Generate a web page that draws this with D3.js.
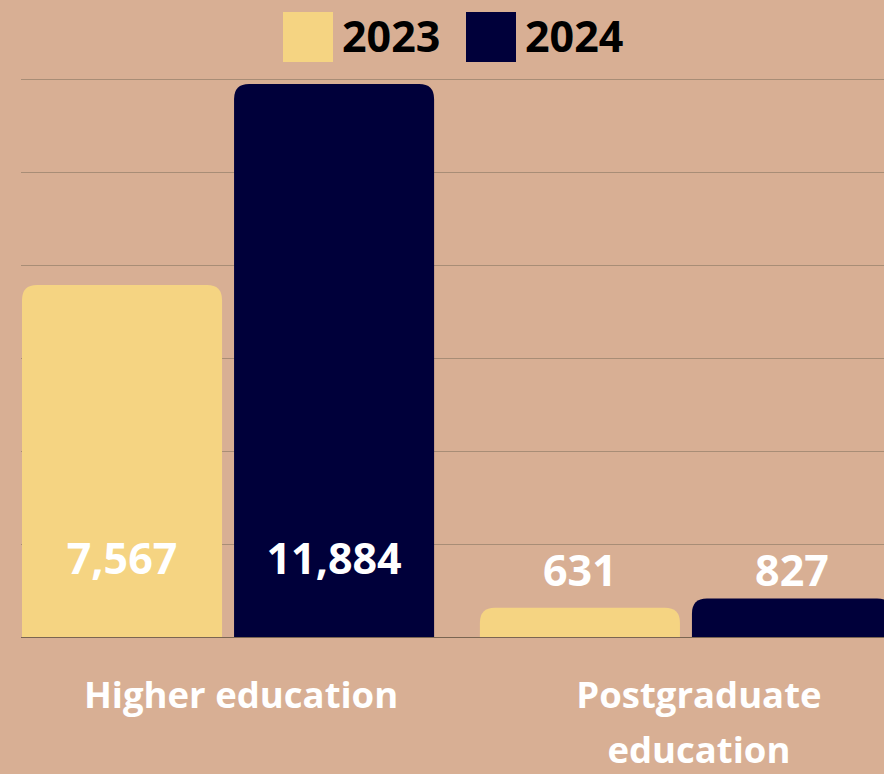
<!DOCTYPE html>
<html>
<head>
<meta charset="utf-8">
<script src="https://cdn.jsdelivr.net/npm/d3@7"></script>
<style>
  html, body { margin: 0; padding: 0; background: #d8af94; overflow: hidden; }
  svg { display: block; font-family: 'Open Sans', 'Noto Sans', sans-serif; font-weight: 700; }
</style>
</head>
<body>
<div id="chart"></div>
<script>
var categories = [['Higher education'], ['Postgraduate', 'education']];
var years = ['2023', '2024'];
var values2023 = [7567, 631];
var values2024 = [11884, 827];
var yTicks = [0, 2000, 4000, 6000, 8000, 10000, 12000];
var colors = ['#f5d482', '#00003a'];

var width = 884, height = 774;
var data = categories.map(function(c, i) {
  return { cat: c.join(' '), lines: c, vals: [values2023[i], values2024[i]] };
});

var svg = d3.select('#chart').append('svg')
  .attr('width', width)
  .attr('height', height);

var x0 = d3.scaleBand()
  .domain(data.map(function(d) { return d.cat; }))
  .range([22, 892])
  .paddingInner(0.1)
  .paddingOuter(0);

var x1 = d3.scaleBand()
  .domain(years)
  .range([0, x0.bandwidth()])
  .paddingInner(12 / 212)
  .paddingOuter(0);

var y = d3.scaleLinear().domain([0, 12000]).range([637, 78.6]);

// gridlines
svg.append('g')
  .selectAll('line')
  .data(yTicks)
  .enter()
  .append('line')
  .attr('x1', 21)
  .attr('x2', width)
  .attr('y1', function(d) { return Math.round(y(d)) + 0.5; })
  .attr('y2', function(d) { return Math.round(y(d)) + 0.5; })
  .attr('stroke', function(d) { return d === 0 ? '#7a6552' : '#a88d76'; })
  .attr('stroke-width', 1);

// bar with rounded top corners
function barPath(x, w, top, bottom, r) {
  r = Math.min(r, (bottom - top), w / 2);
  return 'M' + x + ',' + bottom +
    'V' + (top + r) +
    'Q' + x + ',' + top + ' ' + (x + r) + ',' + top +
    'H' + (x + w - r) +
    'Q' + (x + w) + ',' + top + ' ' + (x + w) + ',' + (top + r) +
    'V' + bottom + 'Z';
}

var groups = svg.append('g')
  .selectAll('g')
  .data(data)
  .enter()
  .append('g')
  .attr('transform', function(d) { return 'translate(' + x0(d.cat) + ',0)'; });

groups.selectAll('path')
  .data(function(d) { return d.vals.map(function(v, i) { return { year: years[i], v: v, i: i }; }); })
  .enter()
  .append('path')
  .attr('d', function(d) {
    return barPath(x1(d.year), x1.bandwidth(), y(d.v), y(0), 15);
  })
  .attr('fill', function(d) { return colors[d.i]; });

groups.selectAll('text.val')
  .data(function(d) { return d.vals.map(function(v, i) { return { year: years[i], v: v, i: i }; }); })
  .enter()
  .append('text')
  .attr('class', 'val')
  .attr('x', function(d) { return x1(d.year) + x1.bandwidth() / 2; })
  .attr('y', function(d) {
    // big bars: label inside near base, small bars: label above
    return y(0) - y(d.v) > 100 ? y(0) - 63 : y(0) - 51;
  })
  .attr('text-anchor', 'middle')
  .attr('fill', '#ffffff')
  .style('font-size', '43px')
  .text(function(d) { return d3.format(',')(d.v); });

// category labels
var catLabels = groups.append('text')
  .attr('text-anchor', 'middle')
  .attr('fill', '#ffffff')
  .style('font-size', '36.5px');

catLabels.selectAll('tspan')
  .data(function(d) { return d.lines; })
  .enter()
  .append('tspan')
  .attr('x', x0.bandwidth() / 2 + 13)
  .attr('y', function(d, i) { return 708 + i * 55; })
  .text(function(d) { return d; });

// legend
var legend = svg.append('g');
var legendX = [283, 466];
years.forEach(function(yr, i) {
  legend.append('rect')
    .attr('x', legendX[i])
    .attr('y', 12)
    .attr('width', 50)
    .attr('height', 50)
    .attr('fill', colors[i]);
  legend.append('text')
    .attr('x', legendX[i] + 59)
    .attr('y', 52)
    .attr('fill', '#000000')
    .style('font-size', '43px')
    .text(yr);
});
</script>
</body>
</html>
